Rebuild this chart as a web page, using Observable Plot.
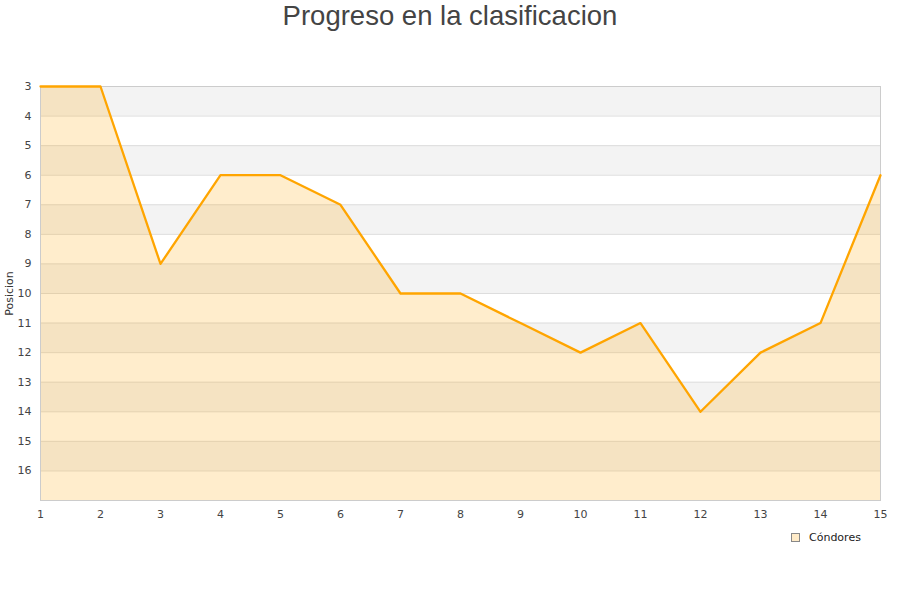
<!DOCTYPE html>
<html>
<head>
<meta charset="utf-8">
<script src="https://cdn.jsdelivr.net/npm/d3@7"></script>
<script src="https://cdn.jsdelivr.net/npm/@observablehq/plot@0.6"></script>
<style>
  html, body { margin: 0; padding: 0; background: #fff; }
  #wrap { position: relative; width: 900px; height: 600px; overflow: hidden; }
  #title { position: absolute; left: 0; top: 0; width: 900px; text-align: center;
    font-family: "Liberation Sans", Arial, sans-serif; font-size: 27.5px; color: #444; line-height: 32px; }
  #legend { position: absolute; left: 791px; top: 531px; font-family: "DejaVu Sans", sans-serif;
    font-size: 11px; color: #222; display: flex; align-items: center; }
  #legend .sw { width: 7px; height: 7px; border: 1px solid #888; background: #FFEBC8; margin-right: 9px; }
  #chart { position: absolute; left: 0; top: 0; }
</style>
</head>
<body>
<div id="wrap">
  <div id="chart"></div>
  <div id="title">Progreso en la clasificacion</div>
  <div id="legend"><span class="sw"></span><span>Cóndores</span></div>
</div>
<script>
const jornadas = [1, 2, 3, 4, 5, 6, 7, 8, 9, 10, 11, 12, 13, 14, 15];
const posiciones = [3, 3, 9, 6, 6, 7, 10, 10, 11, 12, 11, 14, 12, 11, 6];
const yTicks = [3, 4, 5, 6, 7, 8, 9, 10, 11, 12, 13, 14, 15, 16];
const yTop = 3;
const yBottom = 17;
const seriesName = "Cóndores";
const yLabel = ["Posicion"];

const data = jornadas.map((j, i) => ({ jornada: j, posicion: posiciones[i] }));
const bands = d3.range(yTop, yBottom, 2).map(n => ({ a: n, b: n + 1 }));
const grid = d3.range(yTop, yBottom + 1);

const chart = Plot.plot({
  width: 900,
  height: 600,
  marginTop: 86,
  marginBottom: 100,
  marginLeft: 40,
  marginRight: 20,
  style: { fontFamily: "DejaVu Sans, sans-serif", fontSize: "11px", color: "#444", background: "transparent" },
  x: { domain: [1, 15], ticks: jornadas, tickSize: 0, tickPadding: 10, tickFormat: d => String(d), label: null },
  y: { domain: [yTop, yBottom], reverse: true, ticks: yTicks, tickSize: 0, tickPadding: 9, label: null },
  marks: [
    Plot.rectY(bands, { y1: "a", y2: "b", fill: "#f3f3f3" }),
    Plot.ruleY(grid, { stroke: "#dddddd", strokeWidth: 1 }),
    Plot.areaY(data, { x: "jornada", y1: () => yBottom, y2: "posicion", fill: "#FFA500", fillOpacity: 0.2 }),
    Plot.frame({ stroke: "#cccccc" }),
    Plot.lineY(data, { x: "jornada", y: "posicion", stroke: "#FFA500", strokeWidth: 2.3, title: () => seriesName }),
    Plot.text(yLabel, { text: d => d, frameAnchor: "left", textAnchor: "middle", rotate: -90, dx: -31, fill: "#333", fontSize: 11 })
  ]
});
document.getElementById("chart").appendChild(chart);
</script>
</body>
</html>
